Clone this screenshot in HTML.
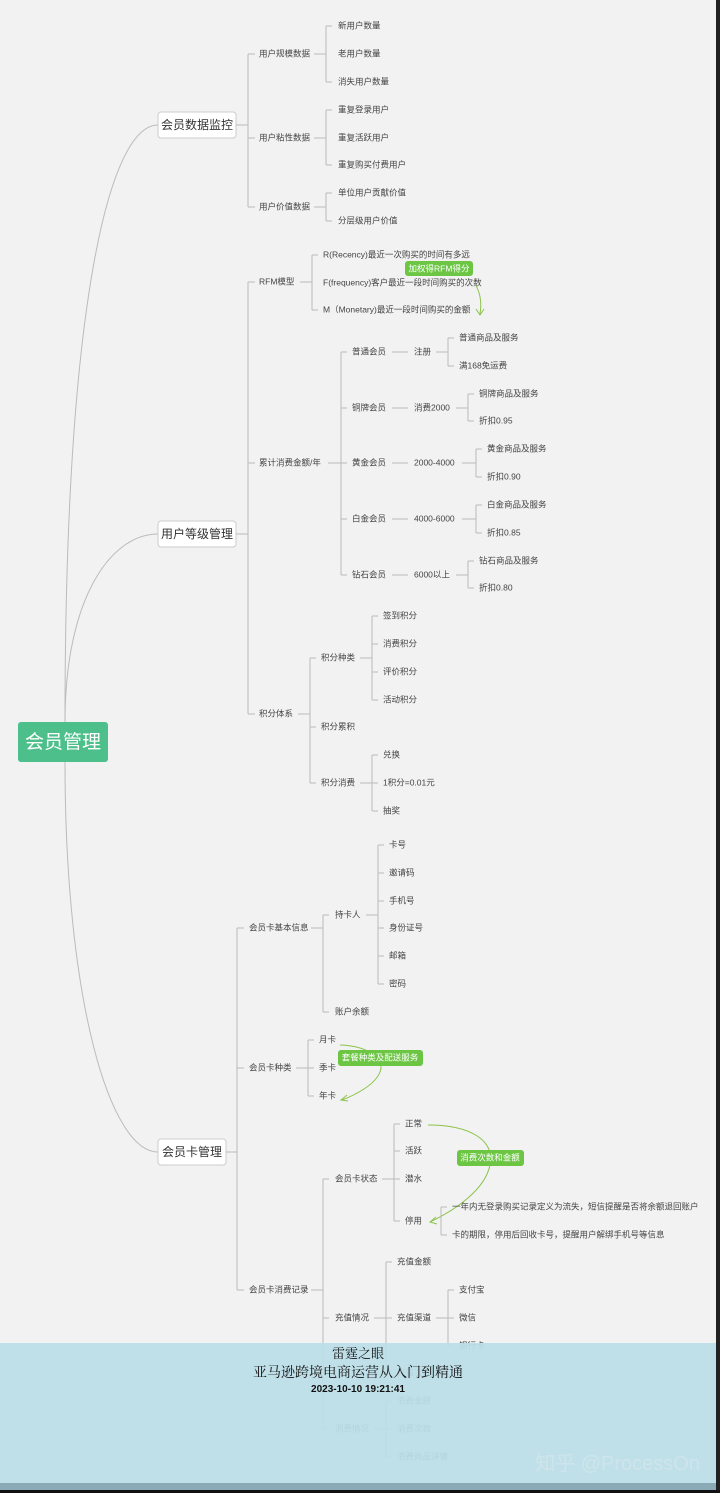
<!DOCTYPE html>
<html><head><meta charset="utf-8"><style>
html,body{margin:0;padding:0;background:#f2f2f2;}
body{width:720px;height:1493px;position:relative;overflow:hidden;font-family:"Liberation Sans","Noto Sans CJK SC",sans-serif;}
svg{position:absolute;left:0;top:0}
text{font-family:"Liberation Sans","Noto Sans CJK SC",sans-serif;font-size:8.5px;fill:#444;dominant-baseline:middle}
.l{stroke:#bbb;stroke-width:1;fill:none}
.ov{position:absolute;left:0;top:1343px;width:716px;height:140px;background:rgba(188,223,232,0.93);text-align:center;font-family:"Noto Serif CJK SC","WenQuanYi Zen Hei",serif;color:#111}
</style></head><body>
<svg width="720" height="1493" viewBox="0 0 720 1493">
<path class="l" d="M65,722 C65,300 110,125 158,125"/>
<path class="l" d="M65,722 C65,600 110,534 158,534"/>
<path class="l" d="M65,762 C65,1000 110,1152 158,1152"/>
<rect x="18" y="722" width="90" height="40" rx="3" fill="#4cbf8a"/>
<text x="63" y="743" text-anchor="middle" style="font-size:19px;fill:#fff">会员管理</text>

<rect x="158" y="112" width="78" height="26" rx="3" fill="#fff" stroke="#ccc"/>
<text x="197" y="126" text-anchor="middle" style="font-size:12px;fill:#333">会员数据监控</text>
<rect x="158" y="521" width="78" height="26" rx="3" fill="#fff" stroke="#ccc"/>
<text x="197" y="535" text-anchor="middle" style="font-size:12px;fill:#333">用户等级管理</text>
<rect x="158" y="1139" width="68" height="26" rx="3" fill="#fff" stroke="#ccc"/>
<text x="192" y="1153" text-anchor="middle" style="font-size:12px;fill:#333">会员卡管理</text>

<path class="l" d="M236,125H248M248,54V207M248,54h7M248,138h7M248,207h7"/>
<text x="259" y="54">用户规模数据</text><text x="259" y="138">用户粘性数据</text><text x="259" y="207">用户价值数据</text>
<path class="l" d="M314,54H326M326,26V82M326,26h6M326,82h6"/>
<text x="338" y="26">新用户数量</text><text x="338" y="54">老用户数量</text><text x="338" y="82">消失用户数量</text>
<path class="l" d="M314,138H326M326,110V165M326,110h6M326,165h6"/>
<text x="338" y="110">重复登录用户</text><text x="338" y="138">重复活跃用户</text><text x="338" y="165">重复购买付费用户</text>
<path class="l" d="M314,207H326M326,193V221M326,193h6M326,221h6"/>
<text x="338" y="193">单位用户贡献价值</text><text x="338" y="221">分层级用户价值</text>

<path class="l" d="M236,534H248M248,282V714M248,282h7M248,463h7M248,714h7"/>
<text x="259" y="282">RFM模型</text><text x="259" y="463">累计消费金额/年</text><text x="259" y="714">积分体系</text>
<path class="l" d="M300,282H312M312,255V310M312,255h6M312,310h6"/>
<text x="323" y="255">R(Recency)最近一次购买的时间有多远</text>
<text x="323" y="283">F(frequency)客户最近一段时间购买的次数</text>
<text x="323" y="310">M（Monetary)最近一段时间购买的金额</text>
<path d="M475,284 C480,292 482,302 480,314" stroke="#8bc34a" fill="none"/>
<path d="M476,309 L480,315 L484,309" stroke="#8bc34a" fill="none"/>
<rect x="405" y="261" width="68" height="15" rx="3" fill="#6cc644"/>
<text x="439" y="269" text-anchor="middle" style="fill:#fff;font-size:8.5px">加权得RFM得分</text>

<path class="l" d="M328,463H341M341,352V575M341,352h6M341,408h6M341,463h6M341,519h6M341,575h6"/>
<text x="352" y="352">普通会员</text><text x="352" y="408">铜牌会员</text><text x="352" y="463">黄金会员</text><text x="352" y="519">白金会员</text><text x="352" y="575">钻石会员</text>
<path class="l" d="M392,352h16M392,408h16M392,463h16M392,519h16M392,575h16"/>
<text x="414" y="352">注册</text><text x="414" y="408">消费2000</text><text x="414" y="463">2000-4000</text><text x="414" y="519">4000-6000</text><text x="414" y="575">6000以上</text>
<path class="l" d="M436,352H448M448,338V366M448,338h6M448,366h6"/>
<text x="459" y="338">普通商品及服务</text><text x="459" y="366">满168免运费</text>
<path class="l" d="M456,408H468M468,394V421M468,394h6M468,421h6"/>
<text x="479" y="394">铜牌商品及服务</text><text x="479" y="421">折扣0.95</text>
<path class="l" d="M462,463H476M476,449V477M476,449h6M476,477h6"/>
<text x="487" y="449">黄金商品及服务</text><text x="487" y="477">折扣0.90</text>
<path class="l" d="M462,519H476M476,505V533M476,505h6M476,533h6"/>
<text x="487" y="505">白金商品及服务</text><text x="487" y="533">折扣0.85</text>
<path class="l" d="M456,575H468M468,561V588M468,561h6M468,588h6"/>
<text x="479" y="561">钻石商品及服务</text><text x="479" y="588">折扣0.80</text>

<path class="l" d="M298,714H310M310,658V783M310,658h6M310,727h6M310,783h6"/>
<text x="321" y="658">积分种类</text><text x="321" y="727">积分累积</text><text x="321" y="783">积分消费</text>
<path class="l" d="M360,658H372M372,616V700M372,616h6M372,644h6M372,672h6M372,700h6"/>
<text x="383" y="616">签到积分</text><text x="383" y="644">消费积分</text><text x="383" y="672">评价积分</text><text x="383" y="700">活动积分</text>
<path class="l" d="M360,783H372M372,755V811M372,755h6M372,783h6M372,811h6"/>
<text x="383" y="755">兑换</text><text x="383" y="783">1积分=0.01元</text><text x="383" y="811">抽奖</text>

<path class="l" d="M226,1152H237M237,928V1290M237,928h7M237,1068h7M237,1290h7"/>
<text x="249" y="928">会员卡基本信息</text><text x="249" y="1068">会员卡种类</text><text x="249" y="1290">会员卡消费记录</text>
<path class="l" d="M311,928H323M323,915V1012M323,915h6M323,1012h6"/>
<text x="335" y="915">持卡人</text><text x="335" y="1012">账户余额</text>
<path class="l" d="M366,915H378M378,845V984M378,845h6M378,873h6M378,901h6M378,928h6M378,956h6M378,984h6"/>
<text x="389" y="845">卡号</text><text x="389" y="873">邀请码</text><text x="389" y="901">手机号</text><text x="389" y="928">身份证号</text><text x="389" y="956">邮箱</text><text x="389" y="984">密码</text>
<path class="l" d="M296,1068H308M308,1040V1096M308,1040h6M308,1068h6M308,1096h6"/>
<text x="319" y="1040">月卡</text><text x="319" y="1068">季卡</text><text x="319" y="1096">年卡</text>
<path d="M340,1045 C370,1046 385,1060 380,1072 C375,1085 355,1095 342,1100" stroke="#8bc34a" fill="none"/>
<path d="M347,1095 L341,1100 L348,1101" stroke="#8bc34a" fill="none"/>
<rect x="338" y="1050" width="85" height="16" rx="3" fill="#6cc644"/>
<text x="380" y="1058" text-anchor="middle" style="fill:#fff;font-size:8.5px">套餐种类及配送服务</text>

<path class="l" d="M311,1290H323M323,1179V1429M323,1179h6M323,1318h6M323,1429h6"/>
<text x="335" y="1179">会员卡状态</text><text x="335" y="1318">充值情况</text><text x="335" y="1429">消费情况</text>
<path class="l" d="M382,1179H394M394,1124V1221M394,1124h6M394,1151h6M394,1179h6M394,1221h6"/>
<text x="405" y="1124">正常</text><text x="405" y="1151">活跃</text><text x="405" y="1179">潜水</text><text x="405" y="1221">停用</text>
<path d="M428,1125 C470,1125 495,1140 490,1165 C485,1190 455,1210 430,1222" stroke="#8bc34a" fill="none"/>
<path d="M436,1217 L430,1222 L437,1224" stroke="#8bc34a" fill="none"/>
<rect x="457" y="1150" width="67" height="16" rx="3" fill="#6cc644"/>
<text x="490" y="1158" text-anchor="middle" style="fill:#fff;font-size:8.5px">消费次数和金额</text>
<path class="l" d="M441,1207V1235M441,1207h6M441,1235h6"/>
<text x="452" y="1207">一年内无登录购买记录定义为流失，短信提醒是否将余额退回账户</text>
<text x="452" y="1235">卡的期限，停用后回收卡号，提醒用户解绑手机号等信息</text>
<path class="l" d="M374,1318H386M386,1262V1373M386,1262h6M386,1318h6M386,1373h6"/>
<text x="397" y="1262">充值金额</text><text x="397" y="1318">充值渠道</text><text x="397" y="1373">充值次数</text>
<path class="l" d="M436,1318H448M448,1290V1346M448,1290h6M448,1318h6M448,1346h6"/>
<text x="459" y="1290">支付宝</text><text x="459" y="1318">微信</text><text x="459" y="1346">银行卡</text>
<path class="l" d="M374,1429H386M386,1401V1457M386,1401h6M386,1429h6M386,1457h6"/>
<text x="397" y="1401">消费金额</text><text x="397" y="1429">消费次数</text><text x="397" y="1457">消费商品详情</text>
</svg>
<div style="position:absolute;left:716px;top:0;width:4px;height:1493px;background:#222"></div>
<div class="ov">
<div style="font-size:13px;margin-top:1px;line-height:18px">雷霆之眼</div>
<div style="font-size:14px;line-height:20px">亚马逊跨境电商运营从入门到精通</div>
<div style="font-size:10px;line-height:16px;font-family:'Liberation Sans',sans-serif;font-weight:bold">2023-10-10 19:21:41</div>
<div style="position:absolute;right:16px;top:104px;font-size:20px;color:#cfe4ea;font-family:'Liberation Sans','Noto Sans CJK SC',sans-serif">知乎 @ProcessOn</div>
</div>
<div style="position:absolute;left:0;top:1483px;width:716px;height:7px;background:#8aaab5"></div>
<div style="position:absolute;left:0;top:1490px;width:720px;height:3px;background:#111"></div>
</body></html>
